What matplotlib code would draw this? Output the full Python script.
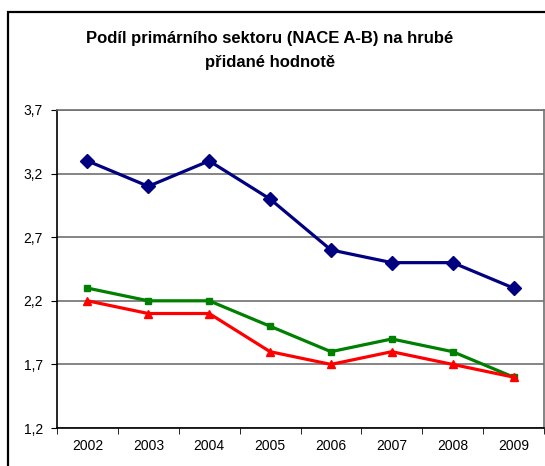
import matplotlib
matplotlib.use("Agg")
import matplotlib.pyplot as plt
from matplotlib.patches import Rectangle

years = ["2002", "2003", "2004", "2005", "2006", "2007", "2008", "2009"]
blue = [3.3, 3.1, 3.3, 3.0, 2.6, 2.5, 2.5, 2.3]
green = [2.3, 2.2, 2.2, 2.0, 1.8, 1.9, 1.8, 1.6]
red = [2.2, 2.1, 2.1, 1.8, 1.7, 1.8, 1.7, 1.6]
yticks = [1.2, 1.7, 2.2, 2.7, 3.2, 3.7]
ytick_labels = ["1,2", "1,7", "2,2", "2,7", "3,2", "3,7"]
title = "Podíl primárního sektoru (NACE A-B) na hrubé\npřidané hodnotě"

plt.rcParams['font.family'] = ['Liberation Sans', 'DejaVu Sans']

W, H = 545, 466
fig = plt.figure(figsize=(W / 100, H / 100), dpi=100)
fig.patch.set_facecolor('white')

# outer chart border
fig.add_artist(Rectangle((8 / W, 0 - 0.01), 1.05, 1 - 12 / H + 0.01,
                         transform=fig.transFigure, fill=False,
                         edgecolor='black', linewidth=1.6, clip_on=False))

ax = fig.add_axes([57 / W, 1 - 428 / H, (544 - 57) / W, (428 - 110) / H])
x = list(range(len(years)))

ax.plot(x, blue, color='#000080', linewidth=2.3, marker='D', markersize=7.5, zorder=4)
ax.plot(x, green, color='#008000', linewidth=2.3, marker='s', markersize=5, zorder=4)
ax.plot(x, red, color='#FF0000', linewidth=2.3, marker='^', markersize=6, zorder=4)

ax.set_xlim(-0.5, len(years) - 0.5)
ax.set_ylim(1.2, 3.7)
ax.set_yticks(yticks)
ax.set_yticklabels(ytick_labels, fontsize=10)
ax.set_xticks(x)
ax.set_xticklabels(years, fontsize=10)
ax.set_xticks([i - 0.5 for i in range(len(years) + 1)], minor=True)
ax.tick_params(axis='x', which='major', length=0, pad=8)
ax.tick_params(axis='x', which='minor', length=4, direction='out', color='black')
ax.tick_params(axis='y', length=4, direction='out', pad=6)

ax.grid(axis='y', color='#707070', linewidth=1.2, zorder=1)
for side in ['top', 'right']:
    ax.spines[side].set_color('#707070')
    ax.spines[side].set_linewidth(1.2)
for side in ['left', 'bottom']:
    ax.spines[side].set_color('black')
    ax.spines[side].set_linewidth(1.2)

fig.text(270 / W, 1 - 51 / H, title, ha='center', va='center',
         fontsize=12, fontweight='bold', linespacing=1.75)

fig.savefig('out.png', dpi=100)
